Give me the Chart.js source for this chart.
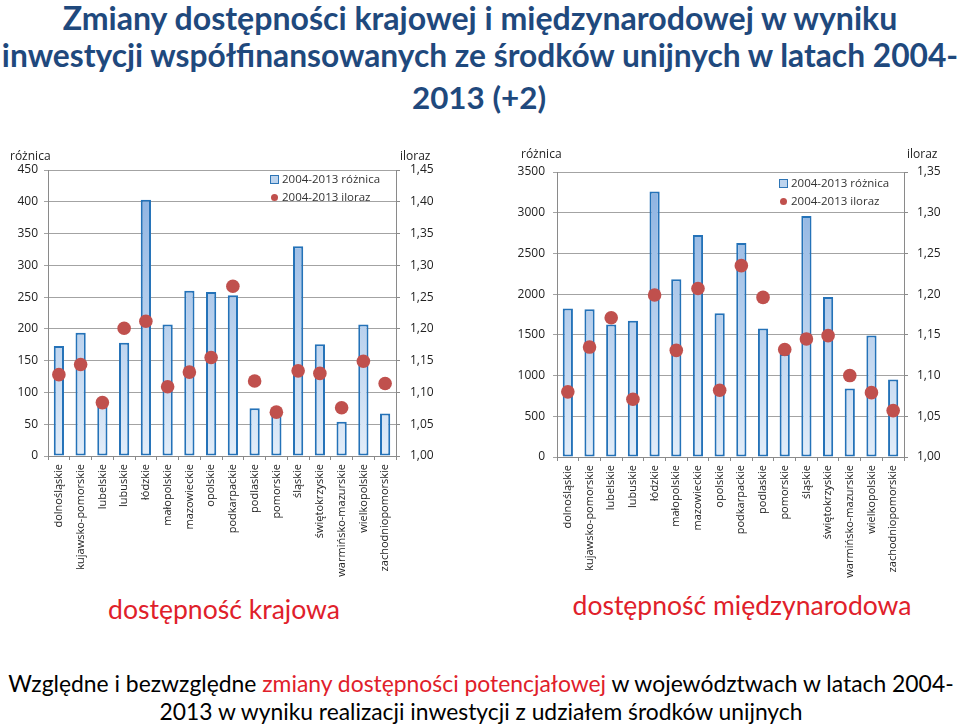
<!DOCTYPE html>
<html lang="pl">
<head>
<meta charset="utf-8">
<script src="https://cdn.jsdelivr.net/npm/chart.js@4.4.1/dist/chart.umd.min.js"></script>
<style>
  html, body { margin: 0; padding: 0; background: #fff; }
  body { width: 960px; height: 725px; position: relative; overflow: hidden; font-family: Lato, "Open Sans", sans-serif; }
  .txt { position: absolute; white-space: nowrap; line-height: 1; transform: translate(-50%, -50%); }
  .title { color: #1F497D; font-weight: bold; font-size: 29px; }
  .cap { color: #E0202A; font-size: 24px; }
  .foot { color: #000; font-size: 22px; }
  .red { color: #E0202A; }
  .axt { position: absolute; font-family: "Open Sans", sans-serif; font-size: 12px; color: #222; white-space: nowrap; line-height: 1; }
  .leg { position: absolute; font-family: "Open Sans", sans-serif; font-size: 11.5px; color: #333; white-space: nowrap; line-height: 1; }
  .leg .sq { display: inline-block; width: 7px; height: 7px; border: 1.5px solid #2E75B6; background: #BDD4EE; margin-right: 3px; vertical-align: -1px; }
  .leg .dot { display: inline-block; width: 7px; height: 7px; border-radius: 50%; background: #C0504D; margin-right: 4px; margin-left: 1px; vertical-align: 0px; }
  .box { position: absolute; }
</style>
</head>
<body>
<div class="txt title" data-w="835" style="left:480px; top:18px;">Zmiany dostępności krajowej i międzynarodowej w wyniku</div>
<div class="txt title" data-w="956" style="left:480px; top:56px;">inwestycji współfinansowanych ze środków unijnych w latach 2004-</div>
<div class="txt title" data-w="134" style="left:479px; top:98px;">2013 (+2)</div>

<div class="box" style="left:0px; top:140px; width:470px; height:445px;"><canvas id="c1"></canvas></div>
<div class="box" style="left:505px; top:140px; width:455px; height:445px;"><canvas id="c2"></canvas></div>

<div class="axt" style="left:10px; top:150px;">różnica</div>
<div class="axt" style="left:400px; top:150px;">iloraz</div>
<div class="axt" style="left:521px; top:148px;">różnica</div>
<div class="axt" style="left:907px; top:148px;">iloraz</div>

<div class="leg" style="left:270px; top:173px;"><span class="sq"></span>2004-2013 różnica</div>
<div class="leg" style="left:270px; top:191px;"><span class="dot"></span>2004-2013 iloraz</div>
<div class="leg" style="left:779px; top:177px;"><span class="sq"></span>2004-2013 różnica</div>
<div class="leg" style="left:779px; top:195px;"><span class="dot"></span>2004-2013 iloraz</div>

<div class="txt cap" data-w="232" style="left:224px; top:609px;">dostępność krajowa</div>
<div class="txt cap" data-w="339" style="left:742px; top:605px;">dostępność międzynarodowa</div>

<div class="txt foot" data-w="945" style="left:481px; top:683px;">Względne i bezwzględne <span class="red">zmiany dostępności potencjałowej</span> w województwach w latach 2004-</div>
<div class="txt foot" data-w="643" style="left:481px; top:711px;">2013 w wyniku realizacji inwestycji z udziałem środków unijnych</div>

<script>
// ---- data ----
const regions = ["dolnośląskie","kujawsko-pomorskie","lubelskie","lubuskie","łódzkie","małopolskie","mazowieckie","opolskie","podkarpackie","podlaskie","pomorskie","śląskie","świętokrzyskie","warmińsko-mazurskie","wielkopolskie","zachodniopomorskie"];

const krajRoznica = [173, 194, 78, 178, 403, 207, 260, 258, 253, 75, 68, 330, 176, 54, 207, 67];
const krajIloraz  = [1.128, 1.144, 1.084, 1.201, 1.212, 1.109, 1.132, 1.155, 1.267, 1.118, 1.069, 1.134, 1.130, 1.076, 1.149, 1.114];

const miedzRoznica = [1825, 1816, 1628, 1672, 3260, 2182, 2727, 1764, 2628, 1579, 1265, 2960, 1964, 842, 1493, 952];
const miedzIloraz  = [1.080, 1.135, 1.171, 1.071, 1.199, 1.131, 1.207, 1.082, 1.235, 1.196, 1.132, 1.145, 1.149, 1.100, 1.079, 1.057];

const legendBar = "2004-2013 różnica";
const legendDot = "2004-2013 iloraz";

// ---- helpers ----
function barGradient(ctx) {
  const chart = ctx.chart;
  const area = chart.chartArea;
  if (!area) return '#A9C6EA';
  const g = chart.ctx.createLinearGradient(0, area.top, 0, area.bottom);
  g.addColorStop(0, '#88AFE0');
  g.addColorStop(1, '#E2EDF9');
  return g;
}
const comma = v => Number(v).toFixed(2).replace('.', ',');
const xFont = { family: "'Open Sans', sans-serif", size: 11 };
const yFont = { family: "'Open Sans', sans-serif", size: 12 };

function makeChart(id, bars, dots, yMax, yStep, y2Min, y2Max, dims) {
  return new Chart(document.getElementById(id), {
    type: 'bar',
    data: {
      labels: regions,
      datasets: [
        {
          type: 'line', label: legendDot, data: dots, yAxisID: 'y2',
          showLine: false, pointRadius: 6.8, pointHoverRadius: 6.8,
          pointBackgroundColor: '#C0504D', pointBorderColor: '#C0504D', pointBorderWidth: 0,
          order: 0
        },
        {
          type: 'bar', label: legendBar, data: bars, yAxisID: 'y',
          backgroundColor: barGradient, borderColor: '#2472B8', borderWidth: 2,
          barPercentage: 0.47, categoryPercentage: 1, borderSkipped: false,
          order: 1
        }
      ]
    },
    options: {
      responsive: true, maintainAspectRatio: false, animation: false,
      layout: { padding: { left: 0, top: dims.top, right: dims.right, bottom: 0 } },
      plugins: { legend: { display: false }, tooltip: { enabled: false } },
      scales: {
        x: {
          offset: true,
          grid: { offset: true, drawOnChartArea: false, drawTicks: true, tickLength: 4, color: '#8a8a8a' },
          border: { color: '#8a8a8a' },
          ticks: { autoSkip: false, minRotation: 90, maxRotation: 90, padding: 4, color: '#222', font: xFont },
          afterFit: s => { s.height = dims.xh; }
        },
        y: {
          min: 0, max: yMax,
          ticks: { stepSize: yStep, padding: dims.lp, color: '#222', font: yFont, callback: v => String(v) },
          grid: { color: '#a3a3a3', tickLength: 4, lineWidth: 1 },
          border: { color: '#8a8a8a' },
          afterFit: s => { s.width = dims.lw; }
        },
        y2: {
          position: 'right', min: y2Min, max: y2Max,
          ticks: { stepSize: 0.05, padding: dims.rp, color: '#222', font: yFont, callback: v => comma(v) },
          grid: { drawOnChartArea: false, tickLength: 4, color: '#8a8a8a' },
          border: { color: '#8a8a8a' },
          afterFit: s => { s.width = dims.rw; }
        }
      }
    }
  });
}

makeChart('c1', krajRoznica, krajIloraz, 450, 50, 1.0, 1.45,
  { top: 30, right: 30, xh: 129, lw: 48, rw: 44, lp: 6, rp: 10 });
makeChart('c2', miedzRoznica, miedzIloraz, 3500, 500, 1.0, 1.35,
  { top: 32, right: 12, xh: 128, lw: 52, rw: 44, lp: 8, rp: 9 });

// fit text widths
function fitAll() {
  document.querySelectorAll('.txt[data-w]').forEach(el => {
    const target = parseFloat(el.dataset.w);
    for (let i = 0; i < 4; i++) {
      const w = el.getBoundingClientRect().width;
      const fs = parseFloat(getComputedStyle(el).fontSize);
      if (w > 0) el.style.fontSize = (fs * target / w).toFixed(2) + 'px';
    }
  });
}
fitAll();
if (document.fonts && document.fonts.ready) document.fonts.ready.then(fitAll);
</script>
</body>
</html>
